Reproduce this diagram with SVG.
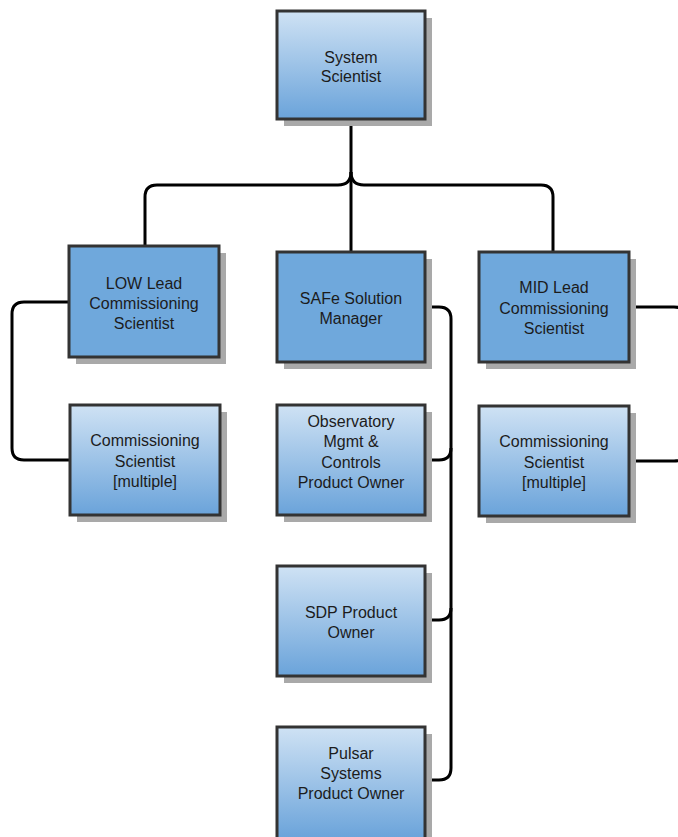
<svg xmlns="http://www.w3.org/2000/svg" width="678" height="837" viewBox="0 0 678 837">
  <defs>
    <linearGradient id="fade" x1="0" y1="0" x2="0" y2="1">
      <stop offset="0" stop-color="#cfe2f4"/>
      <stop offset="1" stop-color="#6aa3da"/>
    </linearGradient>
    <style>
      .shadow { fill: #a9a9a9; }
      .box { stroke: #333333; stroke-width: 3; }
      .grad { fill: url(#fade); }
      .flat { fill: #6fa8dc; }
      .label { font-family: "Liberation Sans", Arial, sans-serif; font-size: 16px; fill: #1c1c1c; text-anchor: middle; }
      .wire { fill: none; stroke: #000000; stroke-width: 3; stroke-linejoin: round; }
    </style>
  </defs>
  <rect width="678" height="837" fill="#ffffff"/>

  <g id="connectors">
    <!-- System Scientist to its three reports -->
    <path class="wire" d="M351,119 V252"/>
    <path class="wire" d="M351,172 Q351,185 338,185 H157 Q145,185 145,197 V246"/>
    <path class="wire" d="M351,172 Q351,185 364,185 H541 Q553,185 553,197 V252"/>
    <!-- LOW lead to commissioning scientists -->
    <path class="wire" d="M69,302 H24 Q12,302 12,314 V448 Q12,460 24,460 H70"/>
    <!-- SAFe Solution Manager to product owners -->
    <path class="wire" d="M425,307 H439 Q451,307 451,319 V768 Q451,780 439,780 H425"/>
    <path class="wire" d="M425,460 H439 Q451,460 451,448"/>
    <path class="wire" d="M425,620 H439 Q451,620 451,608"/>
    <!-- MID lead to commissioning scientists -->
    <path class="wire" d="M629,307 H674 Q686,307 686,319 V449 Q686,461 674,461 H629"/>
  </g>

  <g id="system-scientist">
    <rect class="shadow" x="284" y="18" width="148" height="108"/>
    <rect class="box grad" x="277" y="11" width="148" height="108"/>
    <text class="label" x="351" y="63">System</text>
    <text class="label" x="351" y="82">Scientist</text>
  </g>

  <g id="low-lead">
    <rect class="shadow" x="76" y="253" width="150" height="111"/>
    <rect class="box flat" x="69" y="246" width="150" height="111"/>
    <text class="label" x="144" y="289">LOW Lead</text>
    <text class="label" x="144" y="309">Commissioning</text>
    <text class="label" x="144" y="329">Scientist</text>
  </g>

  <g id="safe-manager">
    <rect class="shadow" x="284" y="259" width="148" height="110"/>
    <rect class="box flat" x="277" y="252" width="148" height="110"/>
    <text class="label" x="351" y="304">SAFe Solution</text>
    <text class="label" x="351" y="324">Manager</text>
  </g>

  <g id="mid-lead">
    <rect class="shadow" x="486" y="259" width="150" height="110"/>
    <rect class="box flat" x="479" y="252" width="150" height="110"/>
    <text class="label" x="554" y="293">MID Lead</text>
    <text class="label" x="554" y="314">Commissioning</text>
    <text class="label" x="554" y="334">Scientist</text>
  </g>

  <g id="low-commissioning">
    <rect class="shadow" x="77" y="412" width="150" height="110"/>
    <rect class="box grad" x="70" y="405" width="150" height="110"/>
    <text class="label" x="145" y="446">Commissioning</text>
    <text class="label" x="145" y="467">Scientist</text>
    <text class="label" x="145" y="487">[multiple]</text>
  </g>

  <g id="observatory-po">
    <rect class="shadow" x="284" y="412" width="148" height="110"/>
    <rect class="box grad" x="277" y="405" width="148" height="110"/>
    <text class="label" x="351" y="427">Observatory</text>
    <text class="label" x="351" y="447">Mgmt &amp;</text>
    <text class="label" x="351" y="468">Controls</text>
    <text class="label" x="351" y="488">Product Owner</text>
  </g>

  <g id="mid-commissioning">
    <rect class="shadow" x="486" y="413" width="150" height="110"/>
    <rect class="box grad" x="479" y="406" width="150" height="110"/>
    <text class="label" x="554" y="447">Commissioning</text>
    <text class="label" x="554" y="468">Scientist</text>
    <text class="label" x="554" y="488">[multiple]</text>
  </g>

  <g id="sdp-po">
    <rect class="shadow" x="284" y="573" width="148" height="110"/>
    <rect class="box grad" x="277" y="566" width="148" height="110"/>
    <text class="label" x="351" y="618">SDP Product</text>
    <text class="label" x="351" y="638">Owner</text>
  </g>

  <g id="pulsar-po">
    <rect class="shadow" x="284" y="734" width="148" height="112"/>
    <rect class="box grad" x="277" y="727" width="148" height="112"/>
    <text class="label" x="351" y="759">Pulsar</text>
    <text class="label" x="351" y="779">Systems</text>
    <text class="label" x="351" y="799">Product Owner</text>
  </g>
</svg>
